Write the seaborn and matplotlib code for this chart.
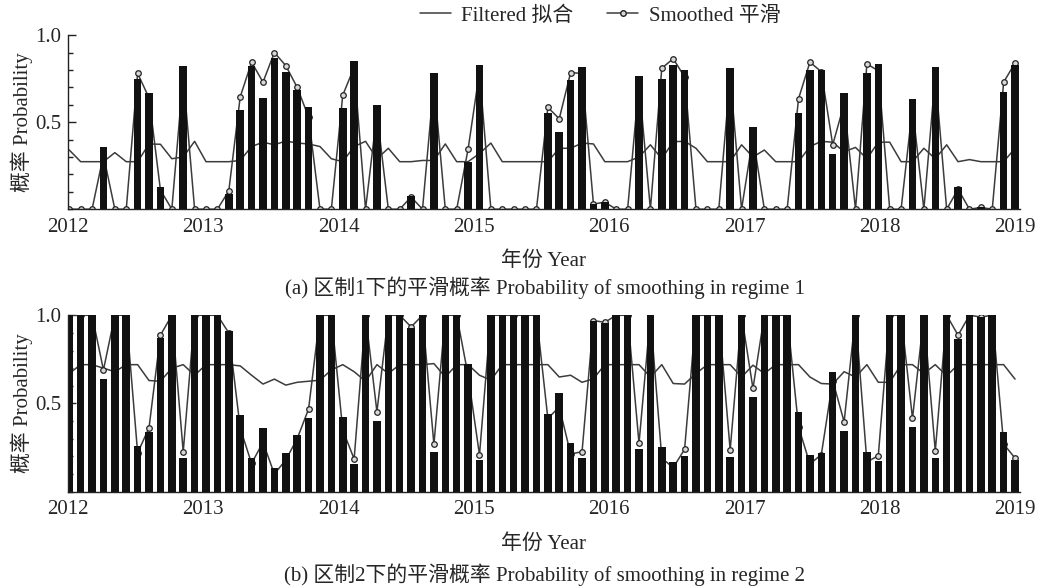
import numpy as np
import pandas as pd
import matplotlib
matplotlib.use("Agg")
import matplotlib.pyplot as plt
import seaborn as sns
from matplotlib.lines import Line2D
from matplotlib.ticker import MultipleLocator, FixedLocator

# ---------------- data (monthly, Jan 2012 - Dec 2018) ----------------
year_labels = ["2012", "2013", "2014", "2015", "2016", "2017", "2018", "2019"]

bars1 = [0, 0, 0, 0.36, 0, 0, 0.75, 0.67, 0.13, 0, 0.82, 0,
         0, 0, 0.09, 0.57, 0.82, 0.64, 0.87, 0.79, 0.685, 0.585, 0, 0,
         0.58, 0.85, 0, 0.60, 0, 0, 0.075, 0, 0.78, 0, 0, 0.27,
         0.83, 0, 0, 0, 0, 0, 0.555, 0.445, 0.74, 0.815, 0.03, 0.044,
         0, 0, 0.765, 0, 0.75, 0.83, 0.80, 0, 0, 0, 0.81, 0,
         0.47, 0, 0, 0, 0.555, 0.80, 0.80, 0.32, 0.665, 0, 0.785, 0.835,
         0, 0, 0.635, 0, 0.815, 0, 0.13, 0, 0.01, 0, 0.675, 0.83]
smooth1 = [0, 0, 0, 0.31, 0, 0, 0.78, 0.64, 0.11, 0, 0.77, 0,
           0, 0, 0.105, 0.645, 0.845, 0.73, 0.90, 0.825, 0.70, 0.53, 0, 0,
           0.655, 0.815, 0, 0.55, 0, 0, 0.07, 0, 0.73, 0, 0, 0.345,
           0.79, 0, 0, 0, 0, 0, 0.585, 0.52, 0.785, 0.78, 0.03, 0.04,
           0, 0, 0.725, 0, 0.81, 0.865, 0.76, 0, 0, 0, 0.765, 0,
           0.415, 0, 0, 0, 0.635, 0.845, 0.79, 0.37, 0.605, 0, 0.835, 0.795,
           0, 0, 0.585, 0, 0.77, 0, 0.115, 0, 0.01, 0, 0.73, 0.84]
filt1 = [0.34, 0.273, 0.273, 0.273, 0.325, 0.273, 0.273, 0.375, 0.373, 0.29, 0.30, 0.39,
         0.273, 0.273, 0.273, 0.28, 0.36, 0.385, 0.37, 0.392, 0.38, 0.375, 0.36, 0.29,
         0.273, 0.36, 0.39, 0.29, 0.35, 0.273, 0.273, 0.28, 0.28, 0.375, 0.273, 0.273,
         0.32, 0.38, 0.273, 0.273, 0.273, 0.273, 0.273, 0.35, 0.35, 0.38, 0.375, 0.273,
         0.273, 0.273, 0.30, 0.37, 0.29, 0.388, 0.39, 0.35, 0.273, 0.273, 0.273, 0.37,
         0.30, 0.34, 0.273, 0.273, 0.273, 0.36, 0.39, 0.385, 0.33, 0.355, 0.29, 0.385,
         0.385, 0.273, 0.273, 0.35, 0.29, 0.37, 0.273, 0.285, 0.273, 0.273, 0.273, 0.35]

bars2 = [1, 1, 1, 0.64, 1, 1, 0.26, 0.336, 0.87, 1, 0.19, 1,
         1, 1, 0.91, 0.434, 0.19, 0.36, 0.136, 0.217, 0.32, 0.415, 1, 1,
         0.425, 0.157, 1, 0.40, 1, 1, 0.925, 1, 0.226, 1, 1, 0.726,
         0.18, 1, 1, 1, 1, 1, 0.443, 0.557, 0.274, 0.19, 0.97, 0.958,
         1, 1, 0.24, 1, 0.255, 0.17, 0.204, 1, 1, 1, 0.198, 1,
         0.538, 1, 1, 1, 0.45, 0.207, 0.217, 0.68, 0.343, 1, 0.226, 0.175,
         1, 1, 0.368, 1, 0.19, 1, 0.868, 1, 0.99, 1, 0.336, 0.18]
smooth2 = [1, 1, 1, 0.69, 1, 1, 0.22, 0.362, 0.887, 1, 0.226, 1,
           1, 1, 0.90, 0.36, 0.16, 0.28, 0.10, 0.18, 0.30, 0.468, 1, 1,
           0.35, 0.185, 1, 0.453, 1, 1, 0.934, 1, 0.268, 1, 1, 0.66,
           0.208, 1, 1, 1, 1, 1, 0.415, 0.48, 0.214, 0.226, 0.97, 0.96,
           1, 1, 0.274, 1, 0.19, 0.136, 0.24, 1, 1, 1, 0.236, 1,
           0.585, 1, 1, 1, 0.367, 0.157, 0.21, 0.63, 0.396, 1, 0.168, 0.204,
           1, 1, 0.415, 1, 0.23, 1, 0.887, 1, 0.99, 1, 0.27, 0.19]
filt2 = [0.67, 0.72, 0.72, 0.70, 0.68, 0.72, 0.72, 0.63, 0.626, 0.70, 0.72, 0.66,
         0.72, 0.72, 0.72, 0.713, 0.66, 0.61, 0.638, 0.604, 0.62, 0.626, 0.632, 0.69,
         0.72, 0.68, 0.626, 0.72, 0.67, 0.72, 0.72, 0.72, 0.726, 0.65, 0.72, 0.72,
         0.66, 0.632, 0.72, 0.72, 0.72, 0.72, 0.72, 0.65, 0.66, 0.62, 0.64, 0.72,
         0.72, 0.72, 0.72, 0.65, 0.72, 0.613, 0.61, 0.67, 0.72, 0.72, 0.72, 0.65,
         0.717, 0.67, 0.72, 0.72, 0.72, 0.65, 0.613, 0.61, 0.68, 0.65, 0.72, 0.62,
         0.62, 0.72, 0.72, 0.67, 0.72, 0.657, 0.72, 0.72, 0.72, 0.72, 0.72, 0.638]

# ---------------- style ----------------
sns.set_theme(style="ticks")
plt.rcParams['font.family'] = ['Liberation Serif', 'Noto Sans CJK SC']
plt.rcParams['axes.unicode_minus'] = False

FS = 15
LINE_C = "#3c3c3c"
BAR_C = "#111111"

fig = plt.figure(figsize=(10.48, 5.86), dpi=100)
ax1 = fig.add_axes([0.0649, 0.643, 0.908, 0.297])
ax2 = fig.add_axes([0.0649, 0.161, 0.908, 0.301])


def draw(ax, bars, smooth, filt, caption, cap_y):
    n = len(bars)
    df = pd.DataFrame({"m": np.arange(n), "bar": bars, "smooth": smooth, "filt": filt})
    sns.lineplot(data=df, x="m", y="filt", ax=ax, color=LINE_C, lw=1.1, zorder=1)
    sns.lineplot(data=df, x="m", y="smooth", ax=ax, color=LINE_C, lw=1.1, marker="o",
                 markersize=4, markerfacecolor="#d8d8d8", markeredgecolor="#222222",
                 markeredgewidth=0.9, zorder=1)
    sns.barplot(data=df, x="m", y="bar", ax=ax, color=BAR_C, saturation=1,
                width=0.66, native_scale=True, errorbar=None, linewidth=0, zorder=2)
    ax.set_xlim(-0.11, n - 0.6)
    ax.set_ylim(0, 1.0)
    for s in ["top", "right"]:
        ax.spines[s].set_visible(False)
    for s in ["left", "bottom"]:
        ax.spines[s].set_color("#222222")
        ax.spines[s].set_linewidth(1.0)
    ax.xaxis.set_major_locator(FixedLocator(np.linspace(-0.1, n - 1, len(year_labels))))
    ax.set_xticklabels(year_labels, fontsize=FS)
    ax.tick_params(axis="x", length=0, pad=6)
    ax.yaxis.set_major_locator(FixedLocator([0.5, 1.0]))
    ax.set_yticklabels(["0.5", "1.0"], fontsize=FS)
    ax.yaxis.set_minor_locator(MultipleLocator(0.1))
    ax.tick_params(axis="y", which="major", direction="in", length=6, width=1, pad=5, color="#222222")
    ax.tick_params(axis="y", which="minor", direction="in", length=3.5, width=1, color="#222222")
    ax.set_ylabel("概率 Probability", fontsize=FS)
    ax.yaxis.set_label_coords(-0.037, 0.5)
    ax.set_xlabel("年份 Year", fontsize=FS)
    ax.xaxis.set_label_coords(0.5, -0.24)
    fig.text(0.52, cap_y, caption, fontsize=FS, ha="center", va="center")
    ax.grid(False)


draw(ax1, bars1, smooth1, filt1, "(a) 区制1下的平滑概率 Probability of smoothing in regime 1", 1 - 288 / 586)
draw(ax2, bars2, smooth2, filt2, "(b) 区制2下的平滑概率 Probability of smoothing in regime 2", 1 - 575 / 586)

handles = [
    Line2D([], [], color=LINE_C, lw=1.1),
    Line2D([], [], color=LINE_C, lw=1.1, marker="o", markersize=4,
           markerfacecolor="#d8d8d8", markeredgecolor="#222222", markevery=[0, 1]),
]
fig.legend(handles, ["Filtered 拟合", "Smoothed 平滑"], loc="center",
           bbox_to_anchor=(0.5725, 1 - 16 / 586), ncol=2, frameon=False,
           fontsize=FS, handlelength=1.5, handletextpad=0.5, columnspacing=1.6)

fig.savefig("out.png", dpi=100)
